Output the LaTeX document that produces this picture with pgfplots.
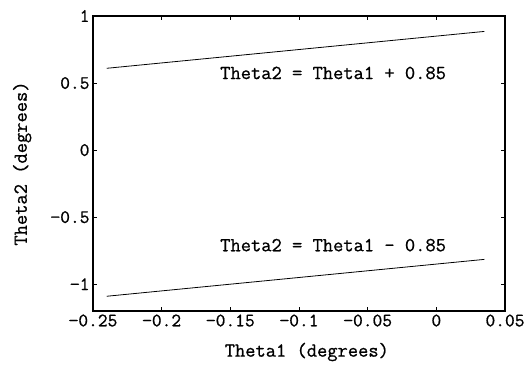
\documentclass[border=0pt]{standalone}
\usepackage{pgfplots}
\pgfplotsset{compat=1.18}
\usepackage{fontspec}
\setmainfont[FakeBold=0.8]{Latin Modern Mono}
\begin{document}
\begin{tikzpicture}[x=1bp,y=1bp]
\begin{axis}[name=ax, at={(0,0)}, anchor=south west,
  scale only axis, width=412bp, height=295bp,
  xmin=-0.25, xmax=0.05, ymin=-1.2, ymax=1,
  xtick={-0.25,-0.2,-0.15,-0.1,-0.05,0,0.05},
  xticklabels={−0.25,−0.2,−0.15,−0.1,−0.05,0,0.05},
  ytick={-1,-0.5,0,0.5,1},
  yticklabels={−1,−0.5,0,0.5,1},
  tick align=inside, major tick length=4bp,
  axis line style={line width=1.3pt},
  tick style={black, line width=0.8pt},
  ticklabel style={font=\fontsize{19}{20}\selectfont},
  xlabel={Theta1 (degrees)}, ylabel={Theta2 (degrees)},
  label style={font=\fontsize{20}{21}\selectfont},
  xlabel style={at={(axis description cs:0.519,-0.139)}, anchor=center},
  ylabel style={at={(axis description cs:-0.172,0.5)}, anchor=center},
]
\addplot[black, line width=0.8pt] coordinates {(-0.24,0.61) (0.035,0.885)};
\addplot[black, line width=0.8pt] coordinates {(-0.24,-1.09) (0.035,-0.815)};
\node[anchor=west, inner sep=0pt, font=\fontsize{20}{21}\selectfont] at (axis cs:-0.1575,0.575) {Theta2 = Theta1 + 0.85};
\node[anchor=west, inner sep=0pt, font=\fontsize{20}{21}\selectfont] at (axis cs:-0.1575,-0.709) {Theta2 = Theta1 - 0.85};
\end{axis}
\pgfresetboundingbox
\path (-93,-53) rectangle (439,311);
\end{tikzpicture}
\end{document}
